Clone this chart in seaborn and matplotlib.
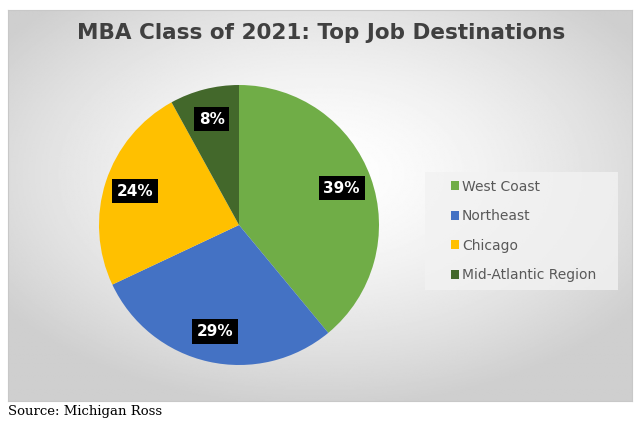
import numpy as np
import matplotlib.pyplot as plt
import seaborn as sns
from matplotlib.patches import Rectangle

# data
regions = ['West Coast', 'Northeast', 'Chicago', 'Mid-Atlantic Region']
shares = [39, 29, 24, 8]
colors = ['#70AD47', '#4472C4', '#FFC000', '#43682B']

sns.set_theme(style='white')
plt.rcParams['font.family'] = ['DejaVu Sans']

fig = plt.figure(figsize=(6.39, 4.26), dpi=100)
fig.patch.set_facecolor('white')

# chart area with radial gradient background
bg = fig.add_axes([8 / 639, 25 / 426, 624 / 639, 391 / 426])
yy, xx = np.mgrid[0:1:300j, 0:1:480j]
dist = np.sqrt(((xx - 0.5) / 0.62) ** 2 + ((yy - 0.58) / 0.6) ** 2)
shade = 1 - 0.19 * np.clip(dist, 0, 1) ** 1.5
bg.imshow(shade, cmap='gray', vmin=0, vmax=1, aspect='auto',
          extent=[0, 1, 0, 1], origin='lower')
bg.set_xticks([])
bg.set_yticks([])
for s in bg.spines.values():
    s.set_color('#C8C8C8')
    s.set_linewidth(0.8)

fig.text(321 / 639, 1 - 33 / 426, 'MBA Class of 2021: Top Job Destinations',
         ha='center', va='center', fontsize=15.5, fontweight='bold', color='#404040')

# pie
ax = fig.add_axes([(239 - 140) / 639, (426 - 225 - 140) / 426, 280 / 639, 280 / 426])
wedges, _, autotexts = ax.pie(shares, colors=colors, startangle=90, counterclock=False,
                              autopct='%1.0f%%', pctdistance=0.78,
                              wedgeprops=dict(linewidth=0))
ax.set_xlim(-1, 1)
ax.set_ylim(-1, 1)
ax.set_aspect('equal')
ax.axis('off')
for t in autotexts:
    t.set_color('white')
    t.set_fontweight('bold')
    t.set_fontsize(11)
    t.set_bbox(dict(facecolor='black', edgecolor='none', boxstyle='square,pad=0.3'))

# legend box and entries
fig.patches.append(Rectangle((425 / 639, 1 - 290 / 426), 193 / 639, 118 / 426,
                             transform=fig.transFigure, facecolor='#F2F2F2',
                             edgecolor='none', alpha=0.8, zorder=1))
leg = fig.legend(wedges, regions, loc='center left',
                 bbox_to_anchor=(451 / 639, 1 - 231 / 426),
                 frameon=False, fontsize=10, handlelength=0.6, handleheight=0.6,
                 handletextpad=0.2, labelspacing=1.12, borderpad=0,
                 borderaxespad=0)
for t in leg.get_texts():
    t.set_color('#595959')

fig.text(8 / 639, 1 - 411 / 426, 'Source: Michigan Ross', ha='left', va='center',
         fontsize=9.5, family=['DejaVu Serif'], color='black')

fig.savefig('out.png', dpi=100)
